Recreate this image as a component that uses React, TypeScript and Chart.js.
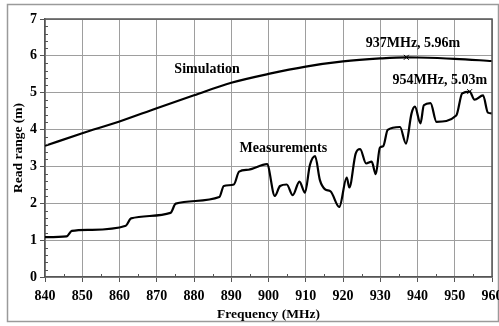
import React, { useEffect, useRef } from "react";
import { Chart, registerables } from "chart.js";

Chart.register(...registerables);

const simFreq = [840, 850, 860, 870, 880, 890, 900, 910, 920, 930, 937, 940, 950, 960];
const simVal = [3.56, 3.9, 4.22, 4.58, 4.93, 5.27, 5.51, 5.71, 5.85, 5.93, 5.96, 5.955, 5.92, 5.86];

const measFreq = [
  840, 845.8, 847.2, 852, 861.7, 863.1, 873.7, 875.1, 886.8, 888.0, 890.7, 892.1, 894.6, 899.6,
  901.7, 903.1, 904.9, 906.5, 908.3, 909.8, 911.1, 912.5, 913.8, 915.2, 916.7, 919.0, 921.0,
  921.7, 923.4, 924.6, 926.2, 927.7, 928.8, 929.9, 930.8, 932.0, 935.3, 936.9, 938.4, 939.3,
  940.8, 941.7, 943.5, 945.1, 950.4, 952.0, 954.0, 955.3, 957.6, 958.9, 960,
];
const measVal = [
  1.08, 1.1, 1.25, 1.28, 1.39, 1.59, 1.74, 1.99, 2.17, 2.47, 2.51, 2.86, 2.91, 3.06,
  2.2, 2.47, 2.51, 2.22, 2.59, 2.29, 3.03, 3.28, 2.63, 2.38, 2.32, 1.9, 2.7,
  2.43, 3.35, 3.47, 3.08, 3.13, 2.79, 3.51, 3.55, 3.99, 4.07, 3.62, 4.44, 4.62,
  4.17, 4.66, 4.72, 4.21, 4.38, 4.98, 5.03, 4.81, 4.93, 4.46, 4.44,
];

const xTicks = [840, 850, 860, 870, 880, 890, 900, 910, 920, 930, 940, 950, 960];
const yTicks = [0, 1, 2, 3, 4, 5, 6, 7];

const markerPoints = [
  { x: 937, y: 5.96 },
  { x: 954, y: 5.03 },
];

const textLabels = [
  { text: "Simulation", x: 883.5, y: 5.64 },
  { text: "Measurements", x: 904, y: 3.5 },
  { text: "937MHz, 5.96m", x: 938.8, y: 6.35 },
  { text: "954MHz, 5.03m", x: 946, y: 5.34 },
];

const FONT = "'Liberation Serif', 'Times New Roman', serif";
const AXIS = "#555555";

const framePlugin = {
  id: "frame",
  beforeDraw(chart: any) {
    const ctx = chart.ctx;
    ctx.save();
    ctx.fillStyle = "#ffffff";
    ctx.fillRect(0, 0, chart.width, chart.height);
    ctx.strokeStyle = "#9a9a9a";
    ctx.lineWidth = 1.5;
    ctx.strokeRect(7.5, 4.5, 491, 317);
    ctx.restore();
  },
  afterDraw(chart: any) {
    const ctx = chart.ctx;
    const a = chart.chartArea;
    const xs = chart.scales.x;
    const ys = chart.scales.y;
    ctx.save();
    ctx.strokeStyle = AXIS;
    ctx.lineWidth = 1.5;
    ctx.beginPath();
    ctx.moveTo(a.left, a.top);
    ctx.lineTo(a.right, a.top);
    ctx.lineTo(a.right, a.bottom);
    ctx.stroke();
    ctx.lineWidth = 1;
    ctx.beginPath();
    for (let i = 0; i < xTicks.length - 1; i++) {
      const v = (xTicks[i] + xTicks[i + 1]) / 2;
      const px = Math.round(xs.getPixelForValue(v)) + 0.5;
      ctx.moveTo(px, a.bottom);
      ctx.lineTo(px, a.bottom - 3);
    }
    for (let i = 0; i < yTicks.length - 1; i++) {
      for (let k = 1; k < 5; k++) {
        const v = yTicks[i] + (k * (yTicks[i + 1] - yTicks[i])) / 5;
        const py = Math.round(ys.getPixelForValue(v)) + 0.5;
        ctx.moveTo(a.left, py);
        ctx.lineTo(a.left + 3, py);
      }
    }
    ctx.stroke();
    ctx.fillStyle = "#000";
    ctx.font = `bold 14px ${FONT}`;
    ctx.textAlign = "center";
    ctx.textBaseline = "middle";
    for (const t of textLabels) {
      ctx.fillText(t.text, xs.getPixelForValue(t.x), ys.getPixelForValue(t.y));
    }
    ctx.restore();
  },
};

export default function App() {
  const ref = useRef<HTMLCanvasElement | null>(null);
  useEffect(() => {
    if (!ref.current) return;
    const chart = new Chart(ref.current, {
      type: "line",
      data: {
        datasets: [
          {
            label: "Simulation",
            data: simFreq.map((f, i) => ({ x: f, y: simVal[i] })),
            borderColor: "#000",
            borderWidth: 2.2,
            pointRadius: 0,
            cubicInterpolationMode: "monotone",
          },
          {
            label: "Measurements",
            data: measFreq.map((f, i) => ({ x: f, y: measVal[i] })),
            borderColor: "#000",
            borderWidth: 2.2,
            pointRadius: 0,
            cubicInterpolationMode: "monotone",
          },
          {
            label: "Markers",
            data: markerPoints,
            showLine: false,
            pointStyle: "crossRot",
            pointRadius: 3.5,
            borderColor: "#000",
            borderWidth: 1,
          },
        ],
      },
      options: {
        animation: false,
        responsive: false,
        events: [],
        layout: { padding: { left: 0, top: 19, right: 7, bottom: 0 } },
        plugins: { legend: { display: false }, tooltip: { enabled: false } },
        scales: {
          x: {
            type: "linear",
            min: 840,
            max: 960,
            afterBuildTicks: (s: any) => {
              s.ticks = xTicks.map((v) => ({ value: v }));
            },
            afterFit: (s: any) => {
              s.height = 49;
              s.paddingLeft = 0;
              s.paddingRight = 0;
            },
            border: { color: AXIS, width: 1.5 },
            grid: { color: "#9e9e9e", lineWidth: 1, tickLength: 5, tickColor: AXIS },
            ticks: {
              color: "#000",
              padding: 6,
              maxRotation: 0,
              font: { family: FONT, size: 14, weight: "bold" },
            },
            title: {
              display: true,
              text: "Frequency (MHz)",
              color: "#000",
              padding: { top: 0, bottom: 3 },
              font: { family: FONT, size: 13.5, weight: "bold" },
            },
          },
          y: {
            type: "linear",
            min: 0,
            max: 7,
            afterBuildTicks: (s: any) => {
              s.ticks = yTicks.map((v) => ({ value: v }));
            },
            afterFit: (s: any) => {
              s.width = 45;
              s.paddingTop = 0;
              s.paddingBottom = 0;
            },
            border: { color: AXIS, width: 1.5 },
            grid: { color: "#9e9e9e", lineWidth: 1, tickLength: 5, tickColor: AXIS },
            ticks: {
              color: "#000",
              padding: 3,
              font: { family: FONT, size: 14, weight: "bold" },
            },
            title: {
              display: true,
              text: "Read range (m)",
              color: "#000",
              padding: { top: 10, bottom: 0 },
              font: { family: FONT, size: 13.5, weight: "bold" },
            },
          },
        },
      },
      plugins: [framePlugin],
    } as any);
    return () => chart.destroy();
  }, []);
  return (
    <div style={{ position: "absolute", left: 0, top: 0, width: 499, height: 326 }}>
      <canvas ref={ref} width={499} height={326} />
    </div>
  );
}
